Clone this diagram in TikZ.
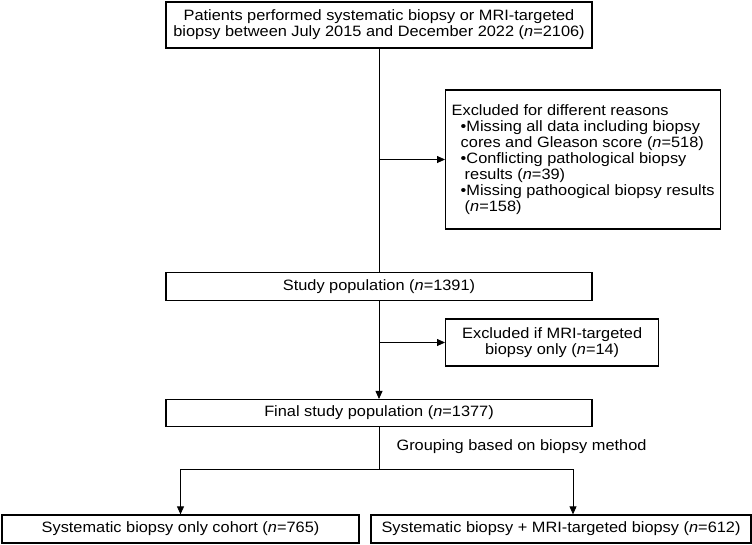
\documentclass[tikz,border=0pt]{standalone}
\usepackage{fontspec}
\setmainfont{Liberation Sans}[FakeStretch=1.09]
\usetikzlibrary{positioning,arrows.meta}

\begin{document}
\begin{tikzpicture}[x=1pt, y=-1pt,
    box/.style={rectangle, draw, line width=1.3pt, inner sep=4pt, font=\fontsize{15}{16}\selectfont},
    arr/.style={-{Triangle[length=8pt,width=7pt]}, line width=0.8pt},
    link/.style={-, line width=0.8pt}]
        \useasboundingbox (0,0) rectangle (752,544);

        %% Main column
        \node[box, minimum width=426pt, minimum height=46pt, align=center] (pat) at (379,25) {Patients performed systematic biopsy or MRI-targeted\\biopsy between July 2015 and December 2022 (\textit{n}=2106)};
        \node[box, below=223pt of pat, minimum width=426pt, minimum height=28pt] (study) {Study population (\textit{n}=1391)};
        \node[box, below=98pt of study, minimum width=426pt, minimum height=27pt] (final) {Final study population (\textit{n}=1377)};

        %% Exclusions
        \node[box, anchor=west, minimum width=275pt, minimum height=139pt, align=left] (excl) at (445,159.5) {Excluded for different reasons\\
            \hspace*{9pt}\textbullet Missing all data including biopsy\\
            \hspace*{9pt}cores and Gleason score (\textit{n}=518)\\
            \hspace*{9pt}\textbullet Conflicting pathological biopsy\\
            \hspace*{13pt}results (\textit{n}=39)\\
            \hspace*{9pt}\textbullet Missing pathoogical biopsy results\\
            \hspace*{13pt}(\textit{n}=158)};
        \node[box, anchor=west, minimum width=213pt, minimum height=47pt, align=center] (mri) at (445,342.5) {Excluded if MRI-targeted\\biopsy only (\textit{n}=14)};

        %% Cohorts
        \node[box, minimum width=357pt, minimum height=28pt] (sysonly) at (180.5,529) {Systematic biopsy only cohort (\textit{n}=765)};
        \node[box, minimum width=380pt, minimum height=28pt] (sysmri) at (561,529) {Systematic biopsy + MRI-targeted biopsy (\textit{n}=612)};
        \node[anchor=west, font=\fontsize{15}{16}\selectfont] (grp) at (393,447) {Grouping based on biopsy method};

        %% Connectors
        \draw[link] (pat) -- (study);
        \coordinate (j1) at (pat.south |- excl.west);
        \draw[arr] (j1) -- (excl);
        \draw[arr] (study) -- (final);
        \coordinate (j2) at (study.south |- mri.west);
        \draw[arr] (j2) -- (mri);
        \coordinate (split) at (379,469);
        \draw[link] (final) -- (split);
        \draw[arr] (split) -| (sysonly);
        \draw[arr] (split) -| ([xshift=12pt]sysmri.north);
\end{tikzpicture}
\end{document}
